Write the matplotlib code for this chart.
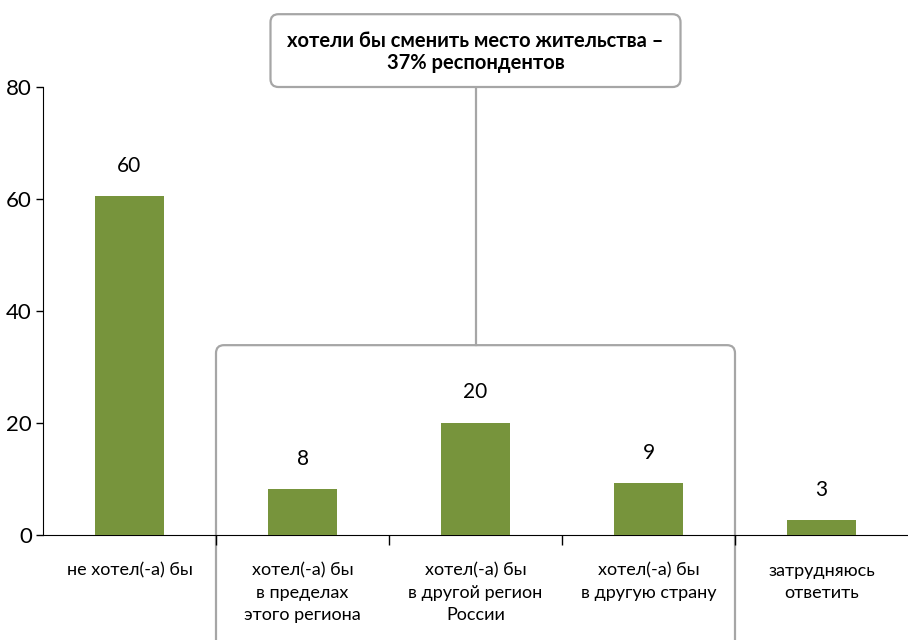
import matplotlib
matplotlib.use("Agg")
import matplotlib.pyplot as plt
from matplotlib.patches import FancyBboxPatch
from matplotlib.transforms import IdentityTransform

plt.rcParams['font.family'] = ['Lato', 'DejaVu Sans']

categories = ['не хотел(-а) бы',
              'хотел(-а) бы\nв пределах\nэтого региона',
              'хотел(-а) бы\nв другой регион\nРоссии',
              'хотел(-а) бы\nв другую страну',
              'затрудняюсь\nответить']
values = [60.5, 8.2, 20, 9.2, 2.6]
value_labels = ['60', '8', '20', '9', '3']
y_ticks = [0, 20, 40, 60, 80]
callout_text = 'хотели бы сменить место жительства –\n37% респондентов'

green = '#77943c'
grey = '#a6a6a6'

fig = plt.figure(figsize=(9.08, 6.4), dpi=100)
ax = fig.add_axes([43 / 908, 105 / 640, 865 / 908, 448 / 640])

x = list(range(len(categories)))
ax.bar(x, values, width=0.4, color=green, zorder=3)

for xi, v, lab in zip(x, values, value_labels):
    ax.annotate(lab, (xi, v), xytext=(0, 22), textcoords='offset points',
                ha='center', va='center', fontsize=15)

ax.set_xlim(-0.5, 4.5)
ax.set_ylim(0, 80)
ax.set_yticks(y_ticks)
ax.tick_params(axis='y', labelsize=16, length=5, width=1, pad=3)
ax.set_xticks(x)
ax.set_xticklabels(categories, fontsize=13, linespacing=1.45, va='top')
ax.set_xticks([0.5, 1.5, 2.5, 3.5], minor=True)
ax.tick_params(axis='x', which='major', length=0, pad=20)
ax.tick_params(axis='x', which='minor', length=7, width=1)
ax.spines['top'].set_visible(False)
ax.spines['right'].set_visible(False)

fig.canvas.draw()
to_px = ax.transData.transform

# group box around the three "would move" categories
(bx0, by1) = to_px((0.5, 33.9))
(bx1, _) = to_px((3.5, 0))
box = FancyBboxPatch((bx0, -30), bx1 - bx0, by1 + 30,
                     boxstyle='round,pad=0,rounding_size=8',
                     transform=IdentityTransform(), fill=False,
                     edgecolor=grey, linewidth=1.6, zorder=1, clip_on=False)
ax.add_patch(box)

# callout box at the top
(cx0, cy0) = to_px((2 - 1.185, 80))
(cx1, cy1) = to_px((2 + 1.185, 93))
callout = FancyBboxPatch((cx0, cy0), cx1 - cx0, cy1 - cy0,
                         boxstyle='round,pad=0,rounding_size=8',
                         transform=IdentityTransform(), facecolor='white',
                         edgecolor=grey, linewidth=1.6, zorder=4, clip_on=False)
ax.add_patch(callout)
ax.plot([2, 2], [33.9, 80], color=grey, linewidth=1.6, clip_on=False, zorder=1)
ax.text(2, 86.2, callout_text, ha='center', va='center', fontsize=14.5,
        fontweight='bold', linespacing=1.15, clip_on=False, zorder=5)

fig.savefig('out.png', dpi=100)
